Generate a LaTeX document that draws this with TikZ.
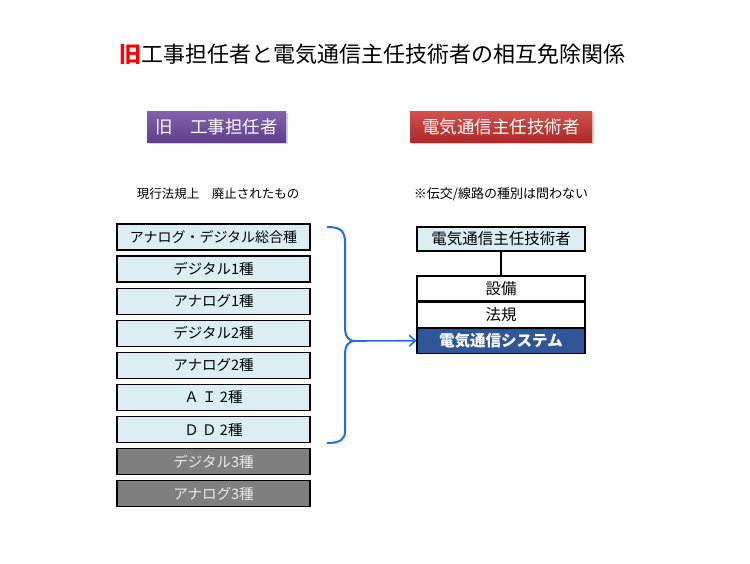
\documentclass[tikz,border=0pt]{standalone}
\usepackage{fontspec}
\setmainfont{Noto Sans CJK JP}
\usetikzlibrary{arrows.meta, positioning, calc, shadows}
\definecolor{KyuPurpleTop}{RGB}{130, 98, 172}
\definecolor{KyuPurpleBot}{RGB}{96, 64, 140}
\definecolor{DenRedTop}{RGB}{212, 82, 76}
\definecolor{DenRedBot}{RGB}{172, 42, 40}
\definecolor{BoxLight}{RGB}{218, 238, 243}
\definecolor{BoxGray}{RGB}{127, 127, 127}
\definecolor{SysBlue}{RGB}{47, 87, 152}
\definecolor{BraceBlue}{RGB}{28, 108, 236}

\begin{document}
\begin{tikzpicture}[x=1pt, y=-1pt,
    headbox/.style={draw=none, top color=#1Top, bottom color=#1Bot, text=white,
        minimum height=31pt, inner sep=0pt, font=\fontsize{17.5}{19}\selectfont,
        drop shadow={shadow xshift=1.5pt, shadow yshift=-1.5pt, opacity=0.35}},
    oldbox/.style={draw=black, line width=1.3pt, fill=BoxLight, minimum width=193pt,
        minimum height=26pt, inner sep=0pt, font=\fontsize{14.5}{16}\selectfont},
    gonebox/.style={oldbox, fill=BoxGray, text=white!92!black},
    stackbox/.style={draw=black, line width=1.1pt, fill=white, minimum width=168pt,
        minimum height=25pt, inner sep=0pt, font=\fontsize{15.5}{17}\selectfont}]
    \useasboundingbox (0,0) rectangle (750,563);

    % タイトル
    \node[font=\fontsize{22}{24}\selectfont] (title) at (372,54)
        {{\color{red}\bfseries 旧}工事担任者と電気通信主任技術者の相互免除関係};

    % 見出し
    \node[headbox=KyuPurple, minimum width=139pt] (kyu) at (216.5,126.5) {旧　工事担任者};
    \node[headbox=DenRed, minimum width=182pt] (den) at (501,126.5) {電気通信主任技術者};
    \node[font=\fontsize{12.5}{14}\selectfont] (kyunote) at (218,194) {現行法規上　廃止されたもの};
    \node[font=\fontsize{13}{14}\selectfont] (dennote) at (501,194) {※伝交/線路の種別は問わない};

    % 旧資格の種別
    \node[oldbox, font=\fontsize{14}{16}\selectfont] (ad) at (213.5,237) {アナログ・デジタル総合種};
    \node[oldbox] (d1) at (213.5,269.1) {デジタル1種};
    \node[oldbox] (a1) at (213.5,301.2) {アナログ1種};
    \node[oldbox] (d2) at (213.5,333.3) {デジタル2種};
    \node[oldbox] (a2) at (213.5,365.4) {アナログ2種};
    \node[oldbox] (ai2) at (213.5,397.5) {Ａ Ｉ 2種};
    \node[oldbox] (dd2) at (213.5,429.6) {Ｄ Ｄ 2種};
    \node[gonebox] (d3) at (213.5,461.7) {デジタル3種};
    \node[gonebox] (a3) at (213.5,493.8) {アナログ3種};

    % 電気通信主任技術者側
    \node[stackbox, fill=BoxLight, minimum height=24pt] (chief) at (501,239) {電気通信主任技術者};
    \node[stackbox] (equip) at (501,288.5) {設備};
    \node[stackbox, below=0pt of equip] (law) {法規};
    \node[stackbox, fill=SysBlue, text=white, font=\fontsize{15.5}{17}\selectfont\bfseries,
        below=0pt of law] (sys) {電気通信システム};
    \draw[line width=1.1pt] (chief) -- (equip);

    % 中括弧と矢印
    \coordinate (tip) at (355,341);
    \draw[BraceBlue, line width=2pt]
        (327,227) .. controls (341,227) and (345,231) .. (345,243) -- (345,327)
        .. controls (345,336) and (348,341) .. (tip)
        .. controls (348,341) and (345,346) .. (345,355) -- (345,431)
        .. controls (345,439) and (341,443) .. (327,443);
    \draw[BraceBlue, line width=1.6pt, -{Straight Barb[length=6pt, width=11pt]}] (tip) -- (sys.west);
\end{tikzpicture}
\end{document}
